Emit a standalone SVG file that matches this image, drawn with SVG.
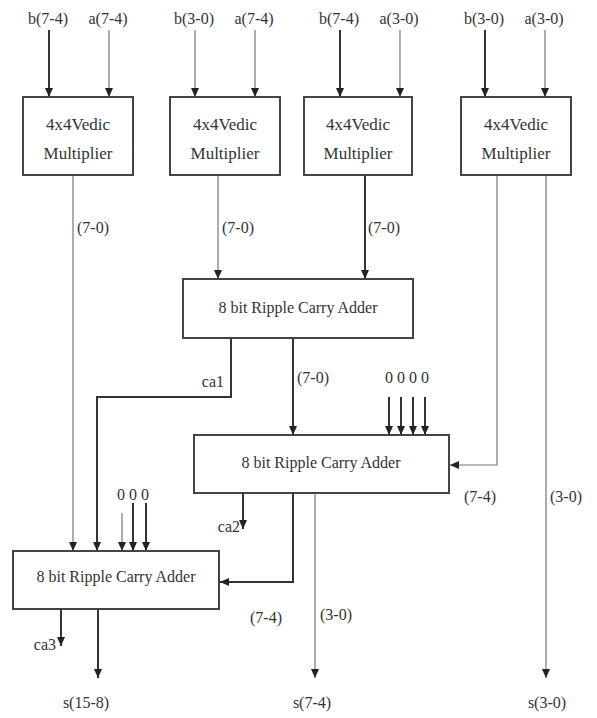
<svg xmlns="http://www.w3.org/2000/svg" width="597" height="718" viewBox="0 0 597 718">
<defs>
<style>
.box{fill:#fff;stroke:#444;stroke-width:2}
.thk{stroke:#333;stroke-width:2;fill:none}
.thn{stroke:#777;stroke-width:1.2;fill:none}
.mid{text-anchor:middle}
.end{text-anchor:end}
</style>
<marker id="ah" markerUnits="userSpaceOnUse" markerWidth="10" markerHeight="10" refX="9" refY="5" orient="auto">
<path d="M0,1 L9,5 L0,9 Z" fill="#222"/>
</marker>
</defs>
<rect width="597" height="718" fill="#fff"/>

<g id="connectors">
<line class="thk" x1="49" y1="30" x2="49" y2="97" marker-end="url(#ah)"/>
<line class="thn" x1="109" y1="30" x2="109" y2="97" marker-end="url(#ah)"/>
<line class="thn" x1="195" y1="30" x2="195" y2="97" marker-end="url(#ah)"/>
<line class="thn" x1="255" y1="30" x2="255" y2="97" marker-end="url(#ah)"/>
<line class="thk" x1="340" y1="30" x2="340" y2="97" marker-end="url(#ah)"/>
<line class="thn" x1="400" y1="30" x2="400" y2="97" marker-end="url(#ah)"/>
<line class="thk" x1="485" y1="30" x2="485" y2="97" marker-end="url(#ah)"/>
<line class="thn" x1="545" y1="30" x2="545" y2="97" marker-end="url(#ah)"/>
<line class="thn" x1="73" y1="175" x2="73" y2="551" marker-end="url(#ah)"/>
<line class="thn" x1="218" y1="175" x2="218" y2="279" marker-end="url(#ah)"/>
<line class="thk" x1="365" y1="175" x2="365" y2="279" marker-end="url(#ah)"/>
<polyline class="thn" points="497,175 497,465 450,465" marker-end="url(#ah)"/>
<line class="thn" x1="546" y1="175" x2="546" y2="678" marker-end="url(#ah)"/>
<polyline class="thk" points="231,338 231,397 97,397 97,551" marker-end="url(#ah)"/>
<line class="thk" x1="293" y1="338" x2="293" y2="435" marker-end="url(#ah)"/>
<line class="thk" x1="389" y1="397" x2="389" y2="435" marker-end="url(#ah)"/>
<line class="thk" x1="401" y1="397" x2="401" y2="435" marker-end="url(#ah)"/>
<line class="thk" x1="413" y1="397" x2="413" y2="435" marker-end="url(#ah)"/>
<line class="thk" x1="425" y1="397" x2="425" y2="435" marker-end="url(#ah)"/>
<line class="thk" x1="243" y1="493" x2="243" y2="529" marker-end="url(#ah)"/>
<polyline class="thk" points="293,493 293,582 220,582" marker-end="url(#ah)"/>
<line class="thn" x1="315" y1="493" x2="315" y2="678" marker-end="url(#ah)"/>
<line class="thn" x1="122" y1="513" x2="122" y2="551" marker-end="url(#ah)"/>
<line class="thk" x1="133" y1="503" x2="133" y2="551" marker-end="url(#ah)"/>
<line class="thk" x1="146" y1="503" x2="146" y2="551" marker-end="url(#ah)"/>
<line class="thk" x1="61" y1="609" x2="61" y2="646" marker-end="url(#ah)"/>
<line class="thk" x1="98" y1="609" x2="98" y2="678" marker-end="url(#ah)"/>
</g>

<g id="labels" fill="#333">
<text font-family="Liberation Serif" font-size="16" class="mid" x="48" y="24">b(7-4)</text>
<text font-family="Liberation Serif" font-size="16" class="mid" x="108" y="24">a(7-4)</text>
<text font-family="Liberation Serif" font-size="16" class="mid" x="194" y="24">b(3-0)</text>
<text font-family="Liberation Serif" font-size="16" class="mid" x="254" y="24">a(7-4)</text>
<text font-family="Liberation Serif" font-size="16" class="mid" x="339" y="24">b(7-4)</text>
<text font-family="Liberation Serif" font-size="16" class="mid" x="399" y="24">a(3-0)</text>
<text font-family="Liberation Serif" font-size="16" class="mid" x="484" y="24">b(3-0)</text>
<text font-family="Liberation Serif" font-size="16" class="mid" x="544" y="24">a(3-0)</text>
<text font-family="Liberation Serif" font-size="16" x="77" y="233">(7-0)</text>
<text font-family="Liberation Serif" font-size="16" x="222" y="233">(7-0)</text>
<text font-family="Liberation Serif" font-size="16" x="368" y="233">(7-0)</text>
<text font-family="Liberation Serif" font-size="16" class="end" x="224" y="387">ca1</text>
<text font-family="Liberation Serif" font-size="16" x="297" y="383">(7-0)</text>
<text font-family="Liberation Serif" font-size="16" class="mid" x="389" y="383">0</text>
<text font-family="Liberation Serif" font-size="16" class="mid" x="401" y="383">0</text>
<text font-family="Liberation Serif" font-size="16" class="mid" x="413" y="383">0</text>
<text font-family="Liberation Serif" font-size="16" class="mid" x="425" y="383">0</text>
<text font-family="Liberation Serif" font-size="16" x="464" y="502">(7-4)</text>
<text font-family="Liberation Serif" font-size="16" x="550" y="502">(3-0)</text>
<text font-family="Liberation Serif" font-size="16" class="end" x="240" y="532">ca2</text>
<text font-family="Liberation Serif" font-size="16" class="mid" x="121" y="500">0</text>
<text font-family="Liberation Serif" font-size="16" class="mid" x="133" y="500">0</text>
<text font-family="Liberation Serif" font-size="16" class="mid" x="145" y="500">0</text>
<text font-family="Liberation Serif" font-size="16" x="250" y="623">(7-4)</text>
<text font-family="Liberation Serif" font-size="16" x="320" y="620">(3-0)</text>
<text font-family="Liberation Serif" font-size="16" class="end" x="56" y="650">ca3</text>
<text font-family="Liberation Serif" font-size="16" class="mid" x="86" y="708">s(15-8)</text>
<text font-family="Liberation Serif" font-size="16" class="mid" x="312" y="708">s(7-4)</text>
<text font-family="Liberation Serif" font-size="16" class="mid" x="547" y="708">s(3-0)</text>
</g>

<g id="mult1" fill="#333">
<rect class="box" x="23" y="97" width="110" height="78"/>
<text font-family="Liberation Serif" font-size="17" class="mid" x="78" y="130">4x4Vedic</text>
<text font-family="Liberation Serif" font-size="17" class="mid" x="78" y="159">Multiplier</text>
</g>
<g id="mult2" fill="#333">
<rect class="box" x="170" y="97" width="110" height="78"/>
<text font-family="Liberation Serif" font-size="17" class="mid" x="225" y="130">4x4Vedic</text>
<text font-family="Liberation Serif" font-size="17" class="mid" x="225" y="159">Multiplier</text>
</g>
<g id="mult3" fill="#333">
<rect class="box" x="304" y="97" width="108" height="78"/>
<text font-family="Liberation Serif" font-size="17" class="mid" x="358" y="130">4x4Vedic</text>
<text font-family="Liberation Serif" font-size="17" class="mid" x="358" y="159">Multiplier</text>
</g>
<g id="mult4" fill="#333">
<rect class="box" x="461" y="97" width="110" height="78"/>
<text font-family="Liberation Serif" font-size="17" class="mid" x="516" y="130">4x4Vedic</text>
<text font-family="Liberation Serif" font-size="17" class="mid" x="516" y="159">Multiplier</text>
</g>
<g id="adder1" fill="#333">
<rect class="box" x="183" y="279" width="230" height="59"/>
<text font-family="Liberation Serif" font-size="16" class="mid" x="298" y="313">8 bit Ripple Carry Adder</text>
</g>
<g id="adder2" fill="#333">
<rect class="box" x="194" y="435" width="255" height="58"/>
<text font-family="Liberation Serif" font-size="16" class="mid" x="321" y="468">8 bit Ripple Carry Adder</text>
</g>
<g id="adder3" fill="#333">
<rect class="box" x="13" y="551" width="206" height="58"/>
<text font-family="Liberation Serif" font-size="16" class="mid" x="116" y="582">8 bit Ripple Carry Adder</text>
</g>
</svg>
